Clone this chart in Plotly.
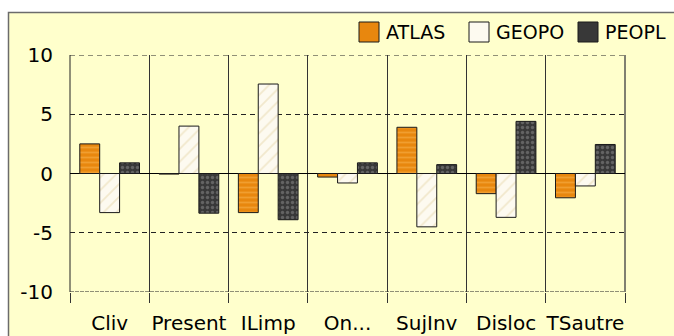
import plotly.graph_objects as go

# Scores per category for the three corpora
categories = ["Cliv", "Present", "ILimp", "On...", "SujInv", "Disloc", "TSautre"]
atlas = [2.5, -0.05, -3.3, -0.3, 3.9, -1.7, -2.05]
geopo = [-3.3, 4.0, 7.55, -0.8, -4.5, -3.7, -1.05]
peopl = [0.9, -3.35, -3.9, 0.9, 0.75, 4.4, 2.45]
series_names = ["ATLAS", "GEOPO", "PEOPL"]
y_ticks = [-10, -5, 0, 5, 10]

W, H = 674, 336
ML, MR, MT, MB = 70, 49, 55, 44
PW, PH = W - ML - MR, H - MT - MB

FONT = "DejaVu Sans"
BG = "#FFFFCC"
DASH = "5px,4px"

styles = [
    dict(color="#E8870E", fg="#F8B552", shape="-", size=5, solidity=0.35),
    dict(color="#FDFAF0", fg="#E6D6A8", shape="/", size=9, solidity=0.2),
    dict(color="#383838", fg="#8E8E8E", shape=".", size=5, solidity=0.35),
]


def px_x(px):
    return (px - ML) / PW


def px_y(py):
    return (H - MB - py) / PH


fig = go.Figure()
for name, vals, st in zip(series_names, [atlas, geopo, peopl], styles):
    fig.add_trace(go.Bar(
        x=categories, y=vals, name=name, showlegend=False,
        marker=dict(
            color=st["color"],
            line=dict(color="#1a1a1a", width=1),
            pattern=dict(shape=st["shape"], fgcolor=st["fg"], bgcolor=st["color"],
                         size=st["size"], solidity=st["solidity"]),
        ),
    ))

shapes = [
    # chart frame
    dict(type="rect", xref="paper", yref="paper", layer="below",
         x0=px_x(8.5), x1=px_x(700), y0=px_y(360), y1=px_y(12.5),
         fillcolor=BG, line=dict(color="#6b6b6b", width=1.5)),
    # plot-area edges that the grid leaves out
    dict(type="line", xref="x domain", yref="y", x0=0, x1=1, y0=max(y_ticks), y1=max(y_ticks),
         line=dict(color="#222222", width=1, dash=DASH), layer="below"),
    dict(type="line", xref="x domain", yref="y", x0=0, x1=1, y0=min(y_ticks), y1=min(y_ticks),
         line=dict(color="#222222", width=1.2, dash="4px,1px"), layer="below"),
    dict(type="line", xref="x domain", yref="y domain", x0=0, x1=0, y0=0, y1=1,
         line=dict(color="#222222", width=1), layer="below"),
    dict(type="line", xref="x domain", yref="y domain", x0=1, x1=1, y0=0, y1=1,
         line=dict(color="#808070", width=2), layer="below"),
]
annotations = []

# hand-built legend across the top
legend_x = [359, 469, 578]
for name, st, lx in zip(series_names, styles, legend_x):
    shapes.append(dict(type="rect", xref="paper", yref="paper",
                       x0=px_x(lx), x1=px_x(lx + 20), y0=px_y(42), y1=px_y(22),
                       fillcolor=st["color"], line=dict(color="#1a1a1a", width=1)))
    annotations.append(dict(xref="paper", yref="paper", x=px_x(lx + 25), y=px_y(32),
                            xanchor="left", yanchor="middle", showarrow=False,
                            text=name, font=dict(family=FONT, size=19, color="black")))

fig.update_layout(
    width=W, height=H,
    margin=dict(l=ML, r=MR, t=MT, b=MB, pad=0, autoexpand=False),
    paper_bgcolor="white", plot_bgcolor=BG,
    barmode="group", bargap=0.247, bargroupgap=0,
    showlegend=False,
    shapes=shapes, annotations=annotations,
    font=dict(family=FONT, size=20, color="black"),
)
fig.update_xaxes(
    type="category", tickson="boundaries", tickangle=0, automargin=False,
    showgrid=True, gridcolor="#333333", gridwidth=1,
    ticks="outside", ticklen=10, tickcolor="#333333", tickwidth=1,
    showline=False, zeroline=False, ticklabelstandoff=17,
    tickfont=dict(family=FONT, size=20, color="black"),
)
fig.update_yaxes(
    range=[-10, 10], tickvals=y_ticks, ticktext=[str(v) for v in y_ticks],
    automargin=False,
    showgrid=True, gridcolor="#222222", gridwidth=1, griddash=DASH,
    zeroline=True, zerolinecolor="black", zerolinewidth=1.3,
    showline=False, ticks="", ticklabelstandoff=16,
    tickfont=dict(family=FONT, size=20, color="black"),
)

fig.write_html("out.html")
